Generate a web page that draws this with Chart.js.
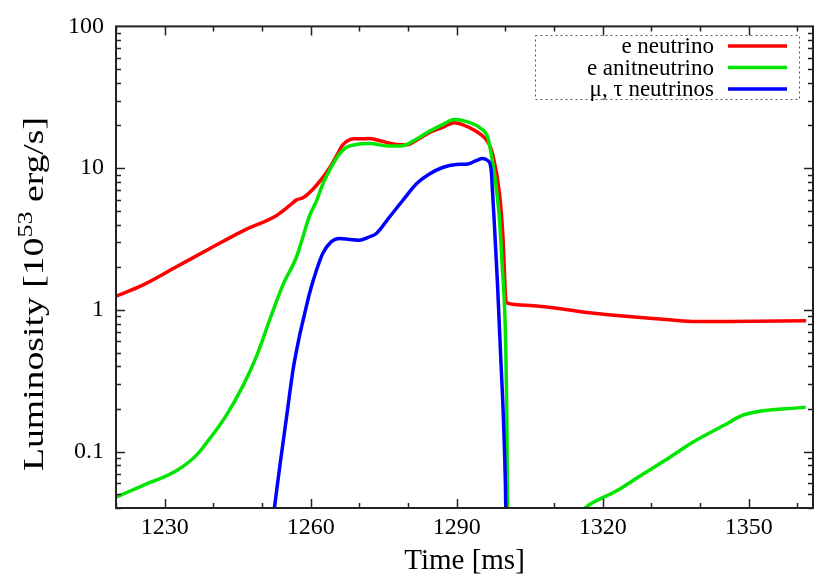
<!DOCTYPE html>
<html>
<head>
<meta charset="utf-8">
<script src="https://cdn.jsdelivr.net/npm/chart.js@4.4.0/dist/chart.umd.min.js"></script>
<style>
  html, body { margin: 0; padding: 0; background: #fff; }
</style>
</head>
<body>
<canvas id="graph" width="830" height="586"></canvas>
<script>
// tick labels
const xTicks = [1230, 1260, 1290, 1320, 1350];
const yTicks = [0.1, 1, 10, 100];

const seriesNames = ['e neutrino', 'e anitneutrino', 'μ, τ neutrinos'];
const seriesColors = ['#ff0000', '#00e600', '#0000ff'];

// e neutrino
const eNuTime = [1220, 1225.6, 1232.5, 1239.3, 1246.1, 1253.0, 1255.7, 1257.1, 1258.4, 1260.5,
  1262.5, 1264.0, 1265.3, 1266.6, 1267.6, 1268.8, 1270.1, 1272.1, 1274.8, 1277.6,
  1279.6, 1281.7, 1284.4, 1287.1, 1289.5, 1291.2, 1294.0, 1295.7, 1296.7, 1297.4,
  1298.8, 1299.5, 1300.1, 1300.25, 1305, 1317.2, 1334.3, 1339.1, 1346.0, 1361.8];
const eNuLum = [1.25, 1.50, 2.02, 2.71, 3.61, 4.64, 5.45, 5.97, 6.17, 7.13,
  8.61, 10.2, 12.2, 14.6, 15.6, 16.1, 16.1, 16.2, 15.4, 14.7,
  14.6, 15.7, 17.8, 19.4, 20.9, 20.3, 18.2, 16.4, 14.7, 12.5,
  6.58, 3.29, 1.16, 1.12, 1.075, 0.953, 0.847, 0.829, 0.829, 0.838];

// e antineutrino (null = gap below the axis)
const eAnuTime = [1220, 1225.6, 1232.5, 1236.6, 1239.3, 1242.7, 1246.1, 1248.9, 1251.6, 1254.3,
  1257.1, 1258.4, 1259.8, 1261.2, 1262.5, 1264.6, 1266.0, 1267.3, 1269.4, 1272.1,
  1276.2, 1278.9, 1281.7, 1284.4, 1287.1, 1289.5, 1291.9, 1294.7, 1296.4, 1297.1,
  1298.1, 1298.8, 1299.4, 1299.8, 1300.1, 1300.3, 1300.4, 1300.5, 1308,
  1315.0, 1317.9, 1322.7, 1327.5, 1333.0, 1338.4, 1345.3, 1349.0, 1361.7];
const eAnuLum = [0.0477, 0.0578, 0.0736, 0.0948, 0.124, 0.181, 0.292, 0.474, 0.855, 1.50,
  2.37, 3.27, 4.64, 5.88, 7.73, 10.7, 12.7, 14.0, 14.7, 14.9,
  14.3, 14.4, 16.0, 18.2, 20.3, 22.0, 21.4, 19.3, 16.4, 12.5,
  7.36, 4.27, 1.91, 1.12, 0.50, 0.170, 0.058, 0.036, null,
  0.037, 0.0435, 0.0525, 0.0668, 0.0875, 0.116, 0.156, 0.182, 0.206];

// mu, tau neutrinos
const muTauTime = [1252.5, 1253.6, 1255.0, 1256.4, 1257.7, 1258.8, 1259.8, 1261.2, 1262.5, 1264.2,
  1265.9, 1268.0, 1270.1, 1272.1, 1273.5, 1276.2, 1278.9, 1281.7, 1284.4, 1287.1,
  1289.9, 1292.3, 1294.0, 1295.3, 1296.4, 1297.1, 1297.3, 1297.7, 1298.4, 1299.0,
  1299.6, 1300.0, 1300.1];
const muTauLum = [0.039, 0.0764, 0.171, 0.383, 0.655, 0.953, 1.32, 1.91, 2.51, 3.02,
  3.19, 3.14, 3.1, 3.28, 3.46, 4.52, 5.91, 7.73, 9.08, 10.1,
  10.6, 10.7, 11.3, 11.7, 11.3, 9.6, 7.36, 4.26, 1.47, 0.50,
  0.170, 0.0588, 0.035];

const yTitleMain = 'Luminosity [10';
const yTitleSup = '53';
const yTitleEnd = ' erg/s]';

function pts(xs, ys) {
  return xs.map((t, i) => ({ x: t, y: ys[i] }));
}

const serif = 'Liberation Serif';
const fontStr = size => Chart.helpers.toFont({ family: serif, size: size }).string;

// inward ticks on all four sides + frame
const frameTicks = {
  id: 'frameTicks',
  afterDatasetsDraw(chart) {
    const { ctx, chartArea: a, scales: { x, y } } = chart;
    ctx.save();
    ctx.strokeStyle = '#222';
    ctx.lineWidth = 1.5;
    ctx.beginPath();
    for (let t = 1220; t <= x.max; t += 10) {
      const px = Math.round(x.getPixelForValue(t)) + 0.5;
      const len = xTicks.includes(t) ? 9 : 5;
      ctx.moveTo(px, a.bottom); ctx.lineTo(px, a.bottom - len);
      ctx.moveTo(px, a.top); ctx.lineTo(px, a.top + len);
    }
    [0.01, 0.1, 1, 10].forEach(d => {
      for (let m = 1; m <= 9; m++) {
        const v = m * d;
        if (v < y.min || v > y.max) continue;
        const py = Math.round(y.getPixelForValue(v)) + 0.5;
        const len = m === 1 ? 9 : 5;
        ctx.moveTo(a.left, py); ctx.lineTo(a.left + len, py);
        ctx.moveTo(a.right, py); ctx.lineTo(a.right - len, py);
      }
    });
    ctx.stroke();
    ctx.lineWidth = 2;
    ctx.strokeRect(a.left, a.top, a.right - a.left, a.bottom - a.top);
    ctx.restore();
  }
};

// rotated y title with a real superscript
const yTitle = {
  id: 'yTitle',
  afterDraw(chart) {
    const c = chart.ctx;
    const big = fontStr(29), small = fontStr(20);
    c.save();
    c.font = big;
    const w1 = c.measureText(yTitleMain).width;
    const w3 = c.measureText(yTitleEnd).width;
    c.font = small;
    const w2 = c.measureText(yTitleSup).width;
    const total = w1 + w2 + w3;
    c.translate(43, 294);
    c.rotate(-Math.PI / 2);
    c.scale(1.3, 1);
    c.fillStyle = '#000';
    c.textBaseline = 'alphabetic';
    c.textAlign = 'left';
    let sx = -total / 2;
    c.font = big; c.fillText(yTitleMain, sx, 0); sx += w1;
    c.font = small; c.fillText(yTitleSup, sx, -11); sx += w2;
    c.font = big; c.fillText(yTitleEnd, sx, 0);
    c.restore();
  }
};

// gnuplot style key: text right, line sample after it, dotted box
const keyBox = {
  id: 'keyBox',
  afterDraw(chart) {
    const c = chart.ctx;
    c.save();
    c.setLineDash([2, 3]);
    c.strokeStyle = '#555';
    c.lineWidth = 1;
    c.strokeRect(535.5, 35.5, 264, 64);
    c.setLineDash([]);
    c.font = fontStr(23);
    c.textAlign = 'right';
    c.textBaseline = 'middle';
    chart.data.datasets.forEach((ds, i) => {
      const yy = 46 + i * 21.5;
      c.fillStyle = '#000';
      c.fillText(ds.label, 714, yy + 1);
      c.strokeStyle = ds.borderColor;
      c.lineWidth = 3.5;
      c.beginPath();
      c.moveTo(728, yy); c.lineTo(787, yy);
      c.stroke();
    });
    c.restore();
  }
};

const ctx = document.getElementById('graph').getContext('2d');
new Chart(ctx, {
  type: 'line',
  data: {
    datasets: [
      { label: seriesNames[0], data: pts(eNuTime, eNuLum), borderColor: seriesColors[0], order: 2 },
      { label: seriesNames[1], data: pts(eAnuTime, eAnuLum), borderColor: seriesColors[1], order: 1 },
      { label: seriesNames[2], data: pts(muTauTime, muTauLum), borderColor: seriesColors[2], order: 0 }
    ]
  },
  options: {
    responsive: false,
    animation: false,
    layout: { padding: { top: 21, right: 17, left: 0, bottom: 0 } },
    elements: {
      point: { radius: 0 },
      line: { borderWidth: 3.5, cubicInterpolationMode: 'monotone', fill: false }
    },
    plugins: { legend: { display: false }, tooltip: { enabled: false } },
    scales: {
      x: {
        type: 'linear',
        min: 1220,
        max: 1363.2,
        afterBuildTicks: s => { s.ticks = xTicks.map(v => ({ value: v })); },
        afterFit: s => { s.height = 78; },
        grid: { display: false, drawTicks: false },
        border: { display: false },
        ticks: { font: { family: serif, size: 24 }, color: '#000', padding: 5, maxRotation: 0, autoSkip: false, callback: v => String(v) },
        title: { display: true, text: 'Time [ms]', color: '#000', font: { family: serif, size: 29 }, padding: { top: 0, bottom: 7 } }
      },
      y: {
        type: 'logarithmic',
        min: 0.04,
        max: 100,
        afterBuildTicks: s => { s.ticks = yTicks.map(v => ({ value: v })); },
        afterFit: s => { s.width = 116; },
        grid: { display: false, drawTicks: false },
        border: { display: false },
        ticks: { font: { family: serif, size: 24 }, color: '#000', padding: 12, autoSkip: false, callback: v => String(v) }
      }
    }
  },
  plugins: [frameTicks, yTitle, keyBox]
});
</script>
</body>
</html>
